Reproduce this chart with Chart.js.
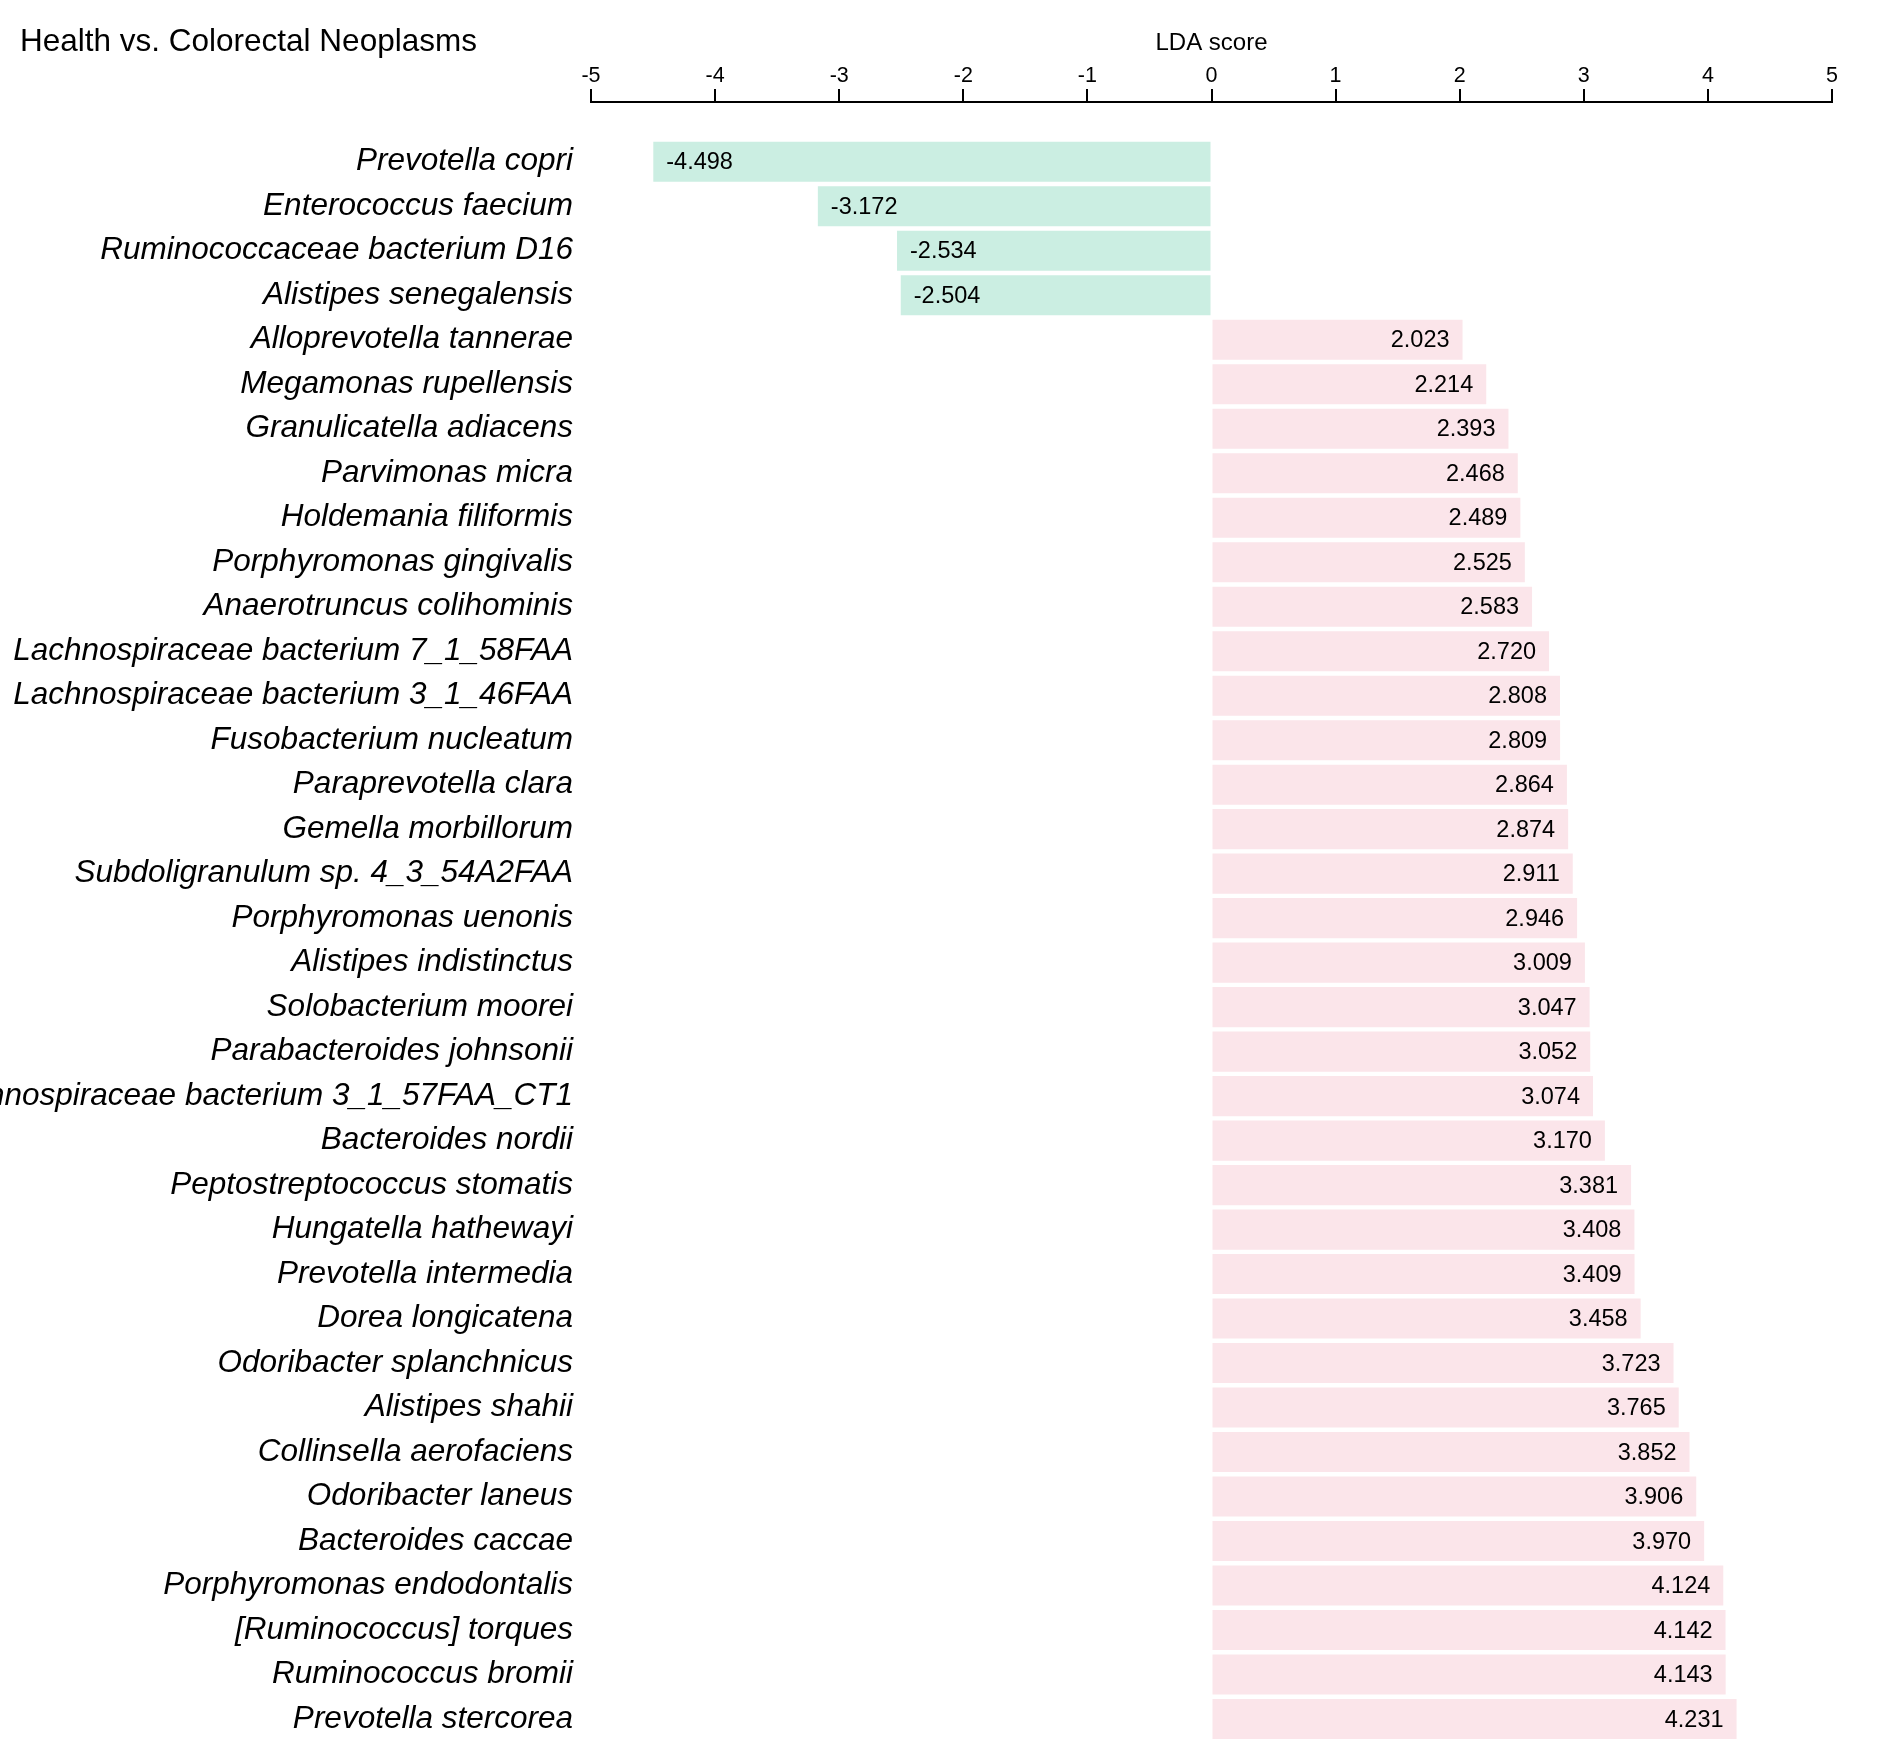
<!DOCTYPE html>
<html>
<head>
<meta charset="utf-8">
<script src="https://cdn.jsdelivr.net/npm/chart.js@4.4.1/dist/chart.umd.min.js"></script>
<style>
  html, body { margin: 0; padding: 0; background: #ffffff; overflow: hidden; }
  #wrap { position: relative; width: 1890px; height: 1760px; }
</style>
</head>
<body>
<div id="wrap"><canvas id="chart"></canvas></div>
<script>
const chartTitle = 'Health vs. Colorectal Neoplasms';
const axisTitle = 'LDA score';

const species = [
  'Prevotella copri',
  'Enterococcus faecium',
  'Ruminococcaceae bacterium D16',
  'Alistipes senegalensis',
  'Alloprevotella tannerae',
  'Megamonas rupellensis',
  'Granulicatella adiacens',
  'Parvimonas micra',
  'Holdemania filiformis',
  'Porphyromonas gingivalis',
  'Anaerotruncus colihominis',
  'Lachnospiraceae bacterium 7_1_58FAA',
  'Lachnospiraceae bacterium 3_1_46FAA',
  'Fusobacterium nucleatum',
  'Paraprevotella clara',
  'Gemella morbillorum',
  'Subdoligranulum sp. 4_3_54A2FAA',
  'Porphyromonas uenonis',
  'Alistipes indistinctus',
  'Solobacterium moorei',
  'Parabacteroides johnsonii',
  'Lachnospiraceae bacterium 3_1_57FAA_CT1',
  'Bacteroides nordii',
  'Peptostreptococcus stomatis',
  'Hungatella hathewayi',
  'Prevotella intermedia',
  'Dorea longicatena',
  'Odoribacter splanchnicus',
  'Alistipes shahii',
  'Collinsella aerofaciens',
  'Odoribacter laneus',
  'Bacteroides caccae',
  'Porphyromonas endodontalis',
  '[Ruminococcus] torques',
  'Ruminococcus bromii',
  'Prevotella stercorea'
];

const ldaScores = [
  -4.498, -3.172, -2.534, -2.504,
  2.023, 2.214, 2.393, 2.468, 2.489, 2.525, 2.583, 2.720,
  2.808, 2.809, 2.864, 2.874, 2.911, 2.946, 3.009, 3.047,
  3.052, 3.074, 3.170, 3.381, 3.408, 3.409, 3.458, 3.723,
  3.765, 3.852, 3.906, 3.970, 4.124, 4.142, 4.143, 4.231
];

const xTickValues = [-5, -4, -3, -2, -1, 0, 1, 2, 3, 4, 5];

const healthColor = '#cbeee2';
const neoplasmColor = '#fbe5ea';
const FONT = "'Liberation Sans', Arial, Helvetica, sans-serif";

const valueLabels = {
  id: 'valueLabels',
  afterLayout(chart) {
    // let long category labels run to the canvas edge instead of being clipped at the axis box
    chart.scales.y.left = 0;
  },
  afterDatasetsDraw(chart) {
    const ctx = chart.ctx;
    const meta = chart.getDatasetMeta(0);
    ctx.save();
    ctx.font = '23.5px ' + FONT;
    ctx.fillStyle = '#000000';
    ctx.textBaseline = 'middle';
    meta.data.forEach((bar, i) => {
      const v = ldaScores[i];
      const txt = v.toFixed(3);
      if (v < 0) {
        ctx.textAlign = 'left';
        ctx.fillText(txt, bar.x + 13, bar.y + 1);
      } else {
        ctx.textAlign = 'right';
        ctx.fillText(txt, bar.x - 13, bar.y + 1);
      }
    });
    ctx.restore();
  }
};

new Chart(document.getElementById('chart'), {
  type: 'bar',
  data: {
    datasets: [{
      data: ldaScores.map((v, i) => ({ x: v, y: i })),
      backgroundColor: ldaScores.map(v => v < 0 ? healthColor : neoplasmColor),
      borderWidth: 0,
      barPercentage: 0.9,
      categoryPercentage: 1.0
    }]
  },
  options: {
    indexAxis: 'y',
    responsive: true,
    maintainAspectRatio: false,
    animation: false,
    layout: { padding: { left: 20, right: 58, top: 0, bottom: 18.7 } },
    plugins: {
      legend: { display: false },
      tooltip: { enabled: false },
      title: {
        display: true,
        text: chartTitle,
        align: 'start',
        color: '#000000',
        font: { family: FONT, size: 31.5, weight: 'normal' },
        padding: { top: 23, bottom: -31.7 }
      }
    },
    scales: {
      x: {
        type: 'linear',
        position: 'top',
        min: -5,
        max: 5,
        offset: false,
        afterBuildTicks: (scale) => { scale.ticks = xTickValues.map(v => ({ value: v })); },
        ticks: {
          color: '#000000',
          font: { family: FONT, size: 21.5 },
          padding: 0,
          maxRotation: 0,
          autoSkip: false,
          callback: (v) => String(v)
        },
        grid: {
          display: true,
          offset: false,
          drawOnChartArea: false,
          drawTicks: true,
          tickLength: 13,
          color: '#000000',
          lineWidth: 2
        },
        border: { display: true, color: '#000000', width: 2 },
        title: {
          display: true,
          text: axisTitle,
          color: '#000000',
          font: { family: FONT, size: 24 },
          padding: { top: 0, bottom: 5.3 }
        }
      },
      y: {
        type: 'linear',
        position: 'left',
        reverse: true,
        offset: false,
        bounds: 'data',
        min: -1.342,
        max: 35.5,
        afterBuildTicks: (scale) => { scale.ticks = species.map((_, i) => ({ value: i })); },
        afterFit: (scale) => { scale.width = 571; scale.paddingTop = 0; scale.paddingBottom = 0; },
        ticks: {
          color: '#000000',
          font: { family: FONT, size: 31.5, style: 'italic' },
          padding: 18,
          autoSkip: false,
          callback: (v) => species[v] !== undefined ? species[v] : ''
        },
        grid: { display: false, offset: false, drawTicks: false },
        border: { display: false }
      }
    }
  },
  plugins: [valueLabels]
});
</script>
</body>
</html>
